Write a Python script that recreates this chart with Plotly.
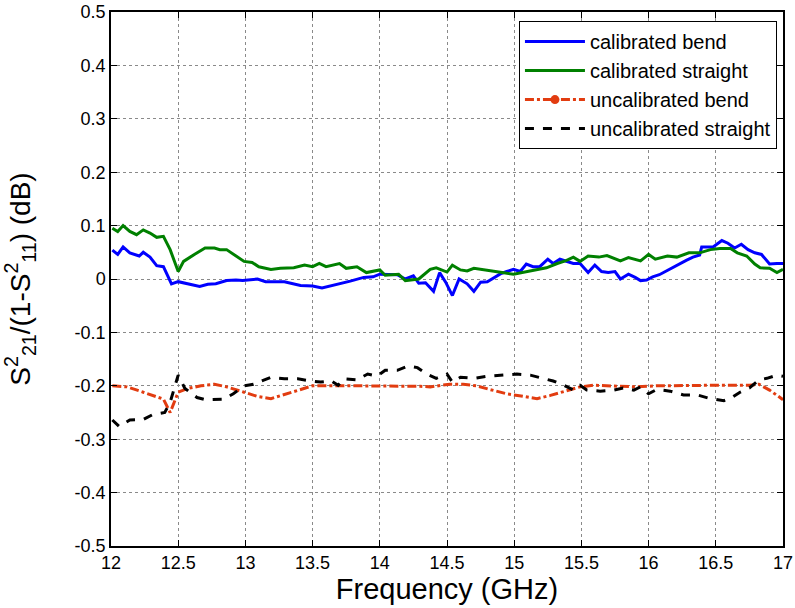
import plotly.graph_objects as go

# calibrated bend (blue)
cb_x = [12.01, 12.05, 12.09, 12.14, 12.21, 12.24, 12.29, 12.34, 12.39, 12.45, 12.50, 12.57, 12.66, 12.72,
        12.78, 12.86, 12.93, 12.98, 13.09, 13.15, 13.29, 13.41, 13.50, 13.57, 13.66, 13.78, 13.88, 13.95,
        14.00, 14.08, 14.13, 14.19, 14.25, 14.29, 14.34, 14.40, 14.445, 14.49, 14.54, 14.59, 14.65, 14.70,
        14.75, 14.80, 14.85, 14.90, 14.945, 14.995, 15.045, 15.09, 15.14, 15.19, 15.25, 15.29, 15.34, 15.39,
        15.44, 15.49, 15.55, 15.60, 15.65, 15.70, 15.75, 15.79, 15.85, 15.90, 15.94, 15.985, 16.03, 16.08,
        16.13, 16.18, 16.23, 16.28, 16.33, 16.38, 16.395, 16.48, 16.545, 16.59, 16.64, 16.69, 16.74, 16.79,
        16.84, 16.90, 16.955, 17.00]
cb_y = [0.054, 0.046, 0.060, 0.049, 0.043, 0.050, 0.041, 0.025, 0.023, -0.009, -0.005, -0.009, -0.014, -0.010,
        -0.009, -0.003, -0.002, -0.003, 0.000, -0.005, -0.005, -0.012, -0.013, -0.017, -0.012, -0.004, 0.003, 0.004,
        0.009, 0.008, 0.008, 0.000, 0.006, -0.008, -0.007, -0.023, 0.012, -0.006, -0.031, 0.000, -0.009, -0.023,
        -0.006, -0.005, 0.003, 0.010, 0.014, 0.018, 0.014, 0.028, 0.023, 0.023, 0.037, 0.029, 0.037, 0.033,
        0.029, 0.029, 0.012, 0.026, 0.014, 0.012, 0.014, 0.000, 0.009, 0.003, -0.003, -0.002, 0.004, 0.008,
        0.015, 0.021, 0.028, 0.035, 0.041, 0.045, 0.060, 0.060, 0.072, 0.067, 0.058, 0.065, 0.055, 0.049,
        0.046, 0.028, 0.029, 0.029]

# calibrated straight (green)
cs_x = [12.01, 12.05, 12.09, 12.14, 12.19, 12.24, 12.29, 12.34, 12.39, 12.44, 12.50, 12.54, 12.62, 12.70,
        12.77, 12.81, 12.86, 12.91, 12.99, 13.05, 13.10, 13.19, 13.26, 13.36, 13.44, 13.50, 13.55, 13.60,
        13.70, 13.75, 13.83, 13.90, 14.00, 14.04, 14.14, 14.19, 14.29, 14.375, 14.42, 14.50, 14.54, 14.60,
        14.65, 14.70, 14.77, 14.85, 14.91, 14.995, 15.09, 15.17, 15.24, 15.32, 15.39, 15.44, 15.49, 15.55,
        15.63, 15.69, 15.79, 15.85, 15.94, 16.00, 16.05, 16.14, 16.21, 16.30, 16.38, 16.46, 16.53, 16.61,
        16.66, 16.73, 16.79, 16.83, 16.90, 16.955, 17.00]
cs_y = [0.095, 0.089, 0.100, 0.089, 0.083, 0.092, 0.086, 0.078, 0.080, 0.055, 0.014, 0.033, 0.046, 0.058,
        0.058, 0.055, 0.055, 0.047, 0.033, 0.031, 0.023, 0.018, 0.020, 0.021, 0.026, 0.023, 0.029, 0.023,
        0.029, 0.020, 0.023, 0.012, 0.017, 0.007, 0.009, -0.003, 0.000, 0.018, 0.021, 0.013, 0.026, 0.017,
        0.015, 0.020, 0.017, 0.014, 0.012, 0.009, 0.014, 0.017, 0.021, 0.029, 0.035, 0.041, 0.033, 0.043,
        0.041, 0.044, 0.034, 0.040, 0.034, 0.046, 0.037, 0.043, 0.041, 0.049, 0.049, 0.055, 0.057, 0.057,
        0.049, 0.043, 0.028, 0.021, 0.020, 0.012, 0.018]

# uncalibrated bend (red)
ub_x = [12.01, 12.12, 12.24, 12.39, 12.44, 12.47, 12.50, 12.57, 12.67, 12.77, 12.86, 12.99, 13.09, 13.19,
        13.31, 13.41, 13.50, 13.80, 14.10, 14.30, 14.375, 14.45, 14.52, 14.62, 14.72, 14.82, 14.945, 15.07,
        15.17, 15.27, 15.39, 15.49, 15.59, 15.76, 15.91, 16.06, 16.26, 16.48, 16.75, 16.82, 16.90, 17.00]
ub_y = [-0.200, -0.202, -0.212, -0.225, -0.250, -0.231, -0.212, -0.205, -0.200, -0.197, -0.202, -0.212, -0.220, -0.224,
        -0.215, -0.207, -0.200, -0.200, -0.200, -0.201, -0.202, -0.200, -0.197, -0.197, -0.200, -0.207, -0.215, -0.220,
        -0.224, -0.218, -0.210, -0.202, -0.199, -0.200, -0.202, -0.200, -0.199, -0.199, -0.199, -0.197, -0.208, -0.226]

# uncalibrated straight (black)
us_x = [12.01, 12.06, 12.14, 12.24, 12.31, 12.40, 12.44, 12.50, 12.55, 12.64, 12.70, 12.84, 12.91, 12.99,
        13.06, 13.19, 13.29, 13.39, 13.49, 13.56, 13.64, 13.69, 13.73, 13.83, 13.91, 13.98, 14.04, 14.13,
        14.21, 14.28, 14.35, 14.42, 14.50, 14.54, 14.60, 14.70, 14.80, 14.92, 15.02, 15.12, 15.22, 15.29,
        15.37, 15.44, 15.49, 15.54, 15.64, 15.74, 15.81, 15.89, 15.94, 16.00, 16.06, 16.16, 16.26, 16.36,
        16.46, 16.56, 16.62, 16.68, 16.75, 16.82, 16.88, 16.955, 17.00]
us_y = [-0.264, -0.276, -0.264, -0.263, -0.254, -0.250, -0.231, -0.180, -0.205, -0.222, -0.226, -0.225, -0.215, -0.200,
        -0.197, -0.184, -0.187, -0.187, -0.191, -0.193, -0.191, -0.199, -0.187, -0.189, -0.178, -0.182, -0.171, -0.171,
        -0.163, -0.166, -0.178, -0.186, -0.178, -0.193, -0.184, -0.186, -0.182, -0.180, -0.178, -0.180, -0.187, -0.191,
        -0.199, -0.208, -0.199, -0.208, -0.210, -0.208, -0.204, -0.208, -0.202, -0.215, -0.207, -0.210, -0.217, -0.217,
        -0.224, -0.228, -0.222, -0.212, -0.204, -0.189, -0.186, -0.180, -0.182]

x_ticks = [12, 12.5, 13, 13.5, 14, 14.5, 15, 15.5, 16, 16.5, 17]
x_labels = ["12", "12.5", "13", "13.5", "14", "14.5", "15", "15.5", "16", "16.5", "17"]
y_ticks = [0.5, 0.4, 0.3, 0.2, 0.1, 0, -0.1, -0.2, -0.3, -0.4, -0.5]
y_labels = ["0.5", "0.4", "0.3", "0.2", "0.1", "0", "-0.1", "-0.2", "-0.3", "-0.4", "-0.5"]

RED = "#E23C10"
FONT = "Liberation Sans, Arial, sans-serif"

fig = go.Figure()
fig.add_trace(go.Scatter(x=cb_x, y=cb_y, mode="lines", name="calibrated bend",
                         line=dict(color="#0000FF", width=3)))
fig.add_trace(go.Scatter(x=cs_x, y=cs_y, mode="lines", name="calibrated straight",
                         line=dict(color="#008000", width=3)))
fig.add_trace(go.Scatter(x=ub_x, y=ub_y, mode="lines", name="uncalibrated bend", showlegend=False,
                         legendgroup="ub", line=dict(color=RED, width=3, dash="dashdot")))
fig.add_trace(go.Scatter(x=[None], y=[None], mode="lines+markers", name="uncalibrated bend",
                         legendgroup="ub", line=dict(color=RED, width=3, dash="dashdot"),
                         marker=dict(color=RED, size=9)))
fig.add_trace(go.Scatter(x=us_x, y=us_y, mode="lines", name="uncalibrated straight",
                         line=dict(color="#000000", width=3, dash="dash")))

axis_common = dict(showline=True, linecolor="black", linewidth=1.5, mirror="ticks",
                   ticks="inside", ticklen=6, tickcolor="black", automargin=False,
                   showgrid=True, gridcolor="#8a8a8a", griddash="dot", gridwidth=1,
                   zeroline=False, tickfont=dict(family=FONT, size=18, color="black"))

fig.update_layout(
    width=795, height=608,
    margin=dict(l=111, r=12, t=12, b=62),
    paper_bgcolor="white", plot_bgcolor="white",
    font=dict(family=FONT, color="black"),
    xaxis=dict(range=[12, 17], tickvals=x_ticks, ticktext=x_labels,
               title=dict(text="Frequency (GHz)", font=dict(family=FONT, size=29), standoff=0),
               **axis_common),
    yaxis=dict(range=[-0.5, 0.5], tickvals=y_ticks, ticktext=y_labels,
               title=dict(text="S<sup>2</sup><sub>21</sub>/(1-S<sup>2</sup><sub>11</sub>) (dB)",
                          font=dict(family=FONT, size=28), standoff=36),
               **axis_common),
    legend=dict(x=0.991, y=0.983, xanchor="right", yanchor="top",
                bgcolor="white", bordercolor="black", borderwidth=1,
                font=dict(family=FONT, size=20, color="black"),
                tracegroupgap=0, itemwidth=60),
    showlegend=True,
)

# remove the browser's default 8px body margin so the figure fills the window exactly
fig.write_html("out.html", config={"displayModeBar": False},
               post_script="document.body.style.margin='0';document.body.style.overflow='hidden';")
